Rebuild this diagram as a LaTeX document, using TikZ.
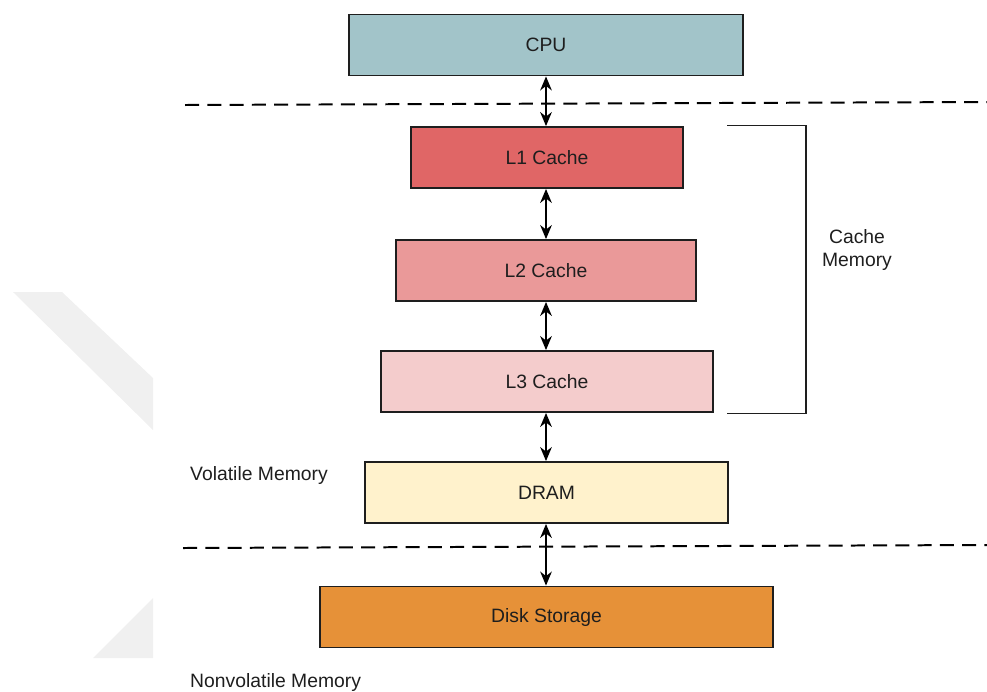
\documentclass[tikz,border=0pt]{standalone}
\usepackage{fontspec}
\setmainfont{Liberation Sans}
\usetikzlibrary{arrows.meta}
\definecolor{cpucol}{HTML}{A2C4C9}
\definecolor{lonecol}{HTML}{E06666}
\definecolor{ltwocol}{HTML}{EA9999}
\definecolor{lthreecol}{HTML}{F4CCCC}
\definecolor{dramcol}{HTML}{FFF2CC}
\definecolor{diskcol}{HTML}{E69138}
\definecolor{inkcol}{HTML}{1E1E1E}
\definecolor{markcol}{HTML}{F0F0F0}
\tikzset{
  memblock/.style={draw=inkcol, line width=1.3pt, inner sep=0pt,
    minimum height=1.84cm, font=\fontsize{16.5}{19}\selectfont, text=inkcol},
  link/.style={draw=black, line width=1.2pt,
    {Stealth[length=12pt,width=10pt]}-{Stealth[length=12pt,width=10pt]}},
  levelline/.style={draw=black, line width=1.7pt, dash pattern=on 12pt off 7pt},
  sidelabel/.style={font=\fontsize{16.5}{19.5}\selectfont, text=inkcol, inner sep=0pt}
}
\begin{document}
\begin{tikzpicture}[x=0.03cm, y=-0.03cm]
\useasboundingbox (0,0) rectangle (987,691);

% faint background marks
\fill[markcol] (13,292) -- (62,292) -- (153,378) -- (153,430) -- cycle;
\fill[markcol] (93,658) -- (153,598) -- (153,658) -- cycle;

% memory hierarchy blocks
\node[memblock, fill=cpucol, minimum width=11.82cm] (cpu) at (546,45) {CPU};
\node[memblock, fill=lonecol, minimum width=8.16cm] (l1) at (547,157.5) {L1 Cache};
\node[memblock, fill=ltwocol, minimum width=9.0cm] (l2) at (546,270.5) {L2 Cache};
\node[memblock, fill=lthreecol, minimum width=9.96cm] (l3) at (547,381.5) {L3 Cache};
\node[memblock, fill=dramcol, minimum width=10.89cm] (dram) at (546.5,492.5) {DRAM};
\node[memblock, fill=diskcol, minimum width=13.59cm] (disk) at (546.5,617) {Disk Storage};

% level separators
\coordinate (sepAl) at (185,105);
\coordinate (sepAr) at (987,102);
\coordinate (sepBl) at (183,548);
\coordinate (sepBr) at (987,545);
\draw[levelline] (sepAl) -- (sepAr);
\draw[levelline] (sepBl) -- (sepBr);

% data paths between levels
\draw[link] (cpu.south -| 546,0) -- (l1.north -| 546,0);
\draw[link] (l1.south -| 546,0) -- (l2.north -| 546,0);
\draw[link] (l2.south -| 546,0) -- (l3.north -| 546,0);
\draw[link] (l3.south -| 546,0) -- (dram.north -| 546,0);
\draw[link] (dram.south -| 546,0) -- (disk.north -| 546,0);

% cache bracket
\coordinate (brTop) at (727,125.5);
\coordinate (brBot) at (727,413.5);
\draw[draw=inkcol, line width=1.3pt] (brTop) -- (806,125.5) -- (806,413.5) -- (brBot);
\node[sidelabel, align=center] (cachelbl) at (857,250) {Cache\\Memory};

% region labels
\node[sidelabel, anchor=west] (vollbl) at (190,475) {Volatile Memory};
\node[sidelabel, anchor=west] (nonvollbl) at (190,682) {Nonvolatile Memory};
\end{tikzpicture}
\end{document}
